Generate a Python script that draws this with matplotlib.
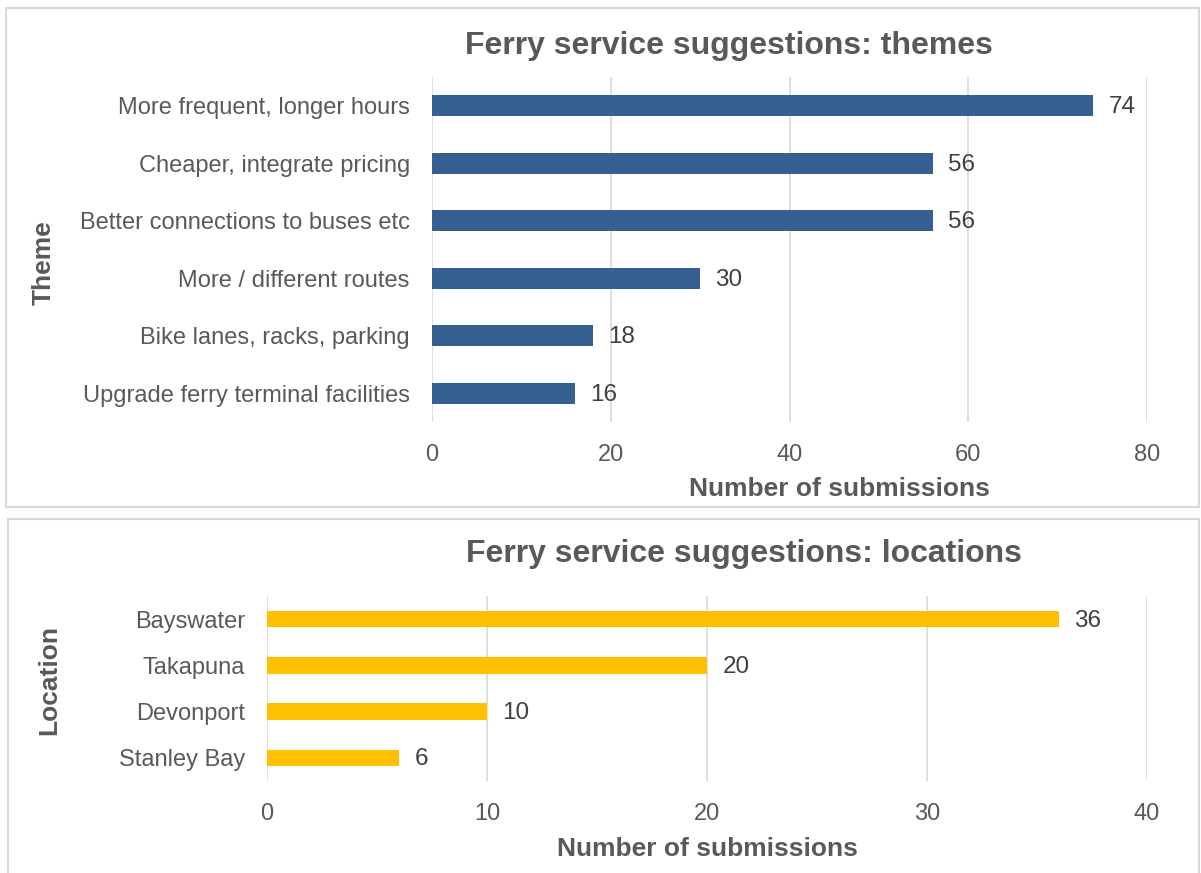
import matplotlib.pyplot as plt
from matplotlib.patches import Rectangle

# data
themes = ['More frequent, longer hours', 'Cheaper, integrate pricing',
          'Better connections to buses etc', 'More / different routes',
          'Bike lanes, racks, parking', 'Upgrade ferry terminal facilities']
theme_counts = [74, 56, 56, 30, 18, 16]

locations = ['Bayswater', 'Takapuna', 'Devonport', 'Stanley Bay']
location_counts = [36, 20, 10, 6]

plt.rcParams['font.family'] = ['Liberation Sans', 'DejaVu Sans']
grey = '#595959'
dark = '#404040'

fig = plt.figure(figsize=(12.01, 8.73), dpi=100)

# panel borders
fig.patches.append(Rectangle((6 / 1201, 1 - 507 / 873), 1193 / 1201, 499 / 873,
                             transform=fig.transFigure, fill=False,
                             edgecolor='#d9d9d9', linewidth=1.5))
fig.patches.append(Rectangle((8 / 1201, 1 - 875 / 873), 1191 / 1201, 356 / 873,
                             transform=fig.transFigure, fill=False,
                             edgecolor='#d9d9d9', linewidth=1.5))


def draw(ax, cats, vals, color, xmax, step, ylabel):
    ypos = list(range(len(cats)))
    ax.barh(ypos, vals, height=0.36, color=color, zorder=3)
    ax.set_ylim(len(cats) - 0.5, -0.5)
    ax.set_xlim(0, xmax)
    ax.set_xticks(range(0, xmax + 1, step))
    ax.set_yticks(ypos)
    ax.set_yticklabels(cats)
    for s in ax.spines.values():
        s.set_visible(False)
    ax.grid(axis='x', color='#d9d9d9', linewidth=1.2, zorder=0)
    ax.tick_params(length=0, labelsize=17, colors=grey)
    ax.tick_params(axis='y', pad=16)
    ax.tick_params(axis='x', pad=16)
    for y, v in zip(ypos, vals):
        ax.annotate(str(v), (v, y), xytext=(11, -1), textcoords='offset points',
                    va='center', ha='left', fontsize=17.5, color=dark)
    ax.set_xlabel('Number of submissions', fontsize=19, fontweight='bold',
                  color=grey)
    ax.set_ylabel(ylabel, fontsize=19, fontweight='bold', color=grey)


ax1 = fig.add_axes([432 / 1201, 1 - 422 / 873, 715 / 1201, 345 / 873])
draw(ax1, themes, theme_counts, '#365f91', 80, 20, 'Theme')
ax1.yaxis.set_label_coords(-(432 - 56) / 715, 0.461)
ax1.xaxis.set_label_coords((839 - 432) / 715, -55 / 345)
fig.text(729 / 1201, 1 - 46 / 873, 'Ferry service suggestions: themes',
         ha='center', va='center', fontsize=23, fontweight='bold', color=grey)

ax2 = fig.add_axes([267 / 1201, 1 - 781 / 873, 880 / 1201, 185 / 873])
draw(ax2, locations, location_counts, '#ffc000', 40, 10, 'Location')
ax2.yaxis.set_label_coords(-(267 - 61) / 880, 0.546)
ax2.xaxis.set_label_coords(0.5, -56 / 185)
fig.text(744 / 1201, 1 - 554 / 873, 'Ferry service suggestions: locations',
         ha='center', va='center', fontsize=23, fontweight='bold', color=grey)

fig.savefig('out.png', dpi=100)
